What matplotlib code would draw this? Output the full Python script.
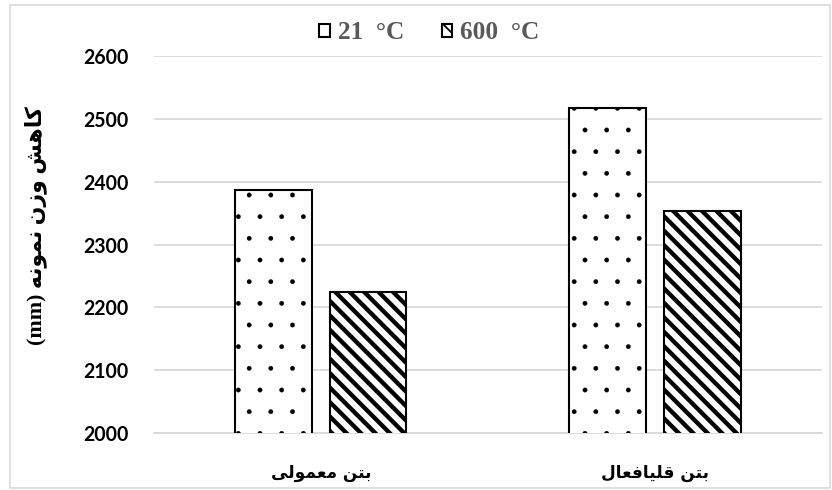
"""Bar chart: sample weight of normal vs alkali-activated concrete at 21 and 600 C."""

import matplotlib.pyplot as plt
from matplotlib.patches import Rectangle
import numpy as np

categories = ["بتن معمولی", "بتن قلیافعال"]
series_names = ["21  °C", "600  °C"]
values_21 = [2387, 2517]
values_600 = [2225, 2354]
y_ticks = [2000, 2100, 2200, 2300, 2400, 2500, 2600]
y_label = "کاهش وزن نمونه"

# presentation forms: isolated, final, initial, medial
FORMS = {
    "ا": ("\uFE8D", "\uFE8E", None, None),
    "ب": ("\uFE8F", "\uFE90", "\uFE91", "\uFE92"),
    "ت": ("\uFE95", "\uFE96", "\uFE97", "\uFE98"),
    "ن": ("\uFEE5", "\uFEE6", "\uFEE7", "\uFEE8"),
    "م": ("\uFEE1", "\uFEE2", "\uFEE3", "\uFEE4"),
    "ع": ("\uFEC9", "\uFECA", "\uFECB", "\uFECC"),
    "و": ("\uFEED", "\uFEEE", None, None),
    "ل": ("\uFEDD", "\uFEDE", "\uFEDF", "\uFEE0"),
    "ی": ("\uFBFC", "\uFBFD", "\uFBFE", "\uFBFF"),
    "ق": ("\uFED5", "\uFED6", "\uFED7", "\uFED8"),
    "ف": ("\uFED1", "\uFED2", "\uFED3", "\uFED4"),
    "ک": ("\uFB8E", "\uFB8F", "\uFB90", "\uFB91"),
    "ه": ("\uFEE9", "\uFEEA", "\uFEEB", "\uFEEC"),
    "ش": ("\uFEB5", "\uFEB6", "\uFEB7", "\uFEB8"),
    "ز": ("\uFEAF", "\uFEB0", None, None),
}


def shape_rtl(text):
    """Very small Persian shaper: pick joined forms, then reverse to visual order."""
    out = []
    for i, ch in enumerate(text):
        if ch not in FORMS:
            out.append(ch)
            continue
        prev = text[i - 1] if i > 0 else ""
        nxt = text[i + 1] if i + 1 < len(text) else ""
        join_prev = prev in FORMS and FORMS[prev][2] is not None
        join_next = nxt in FORMS and FORMS[ch][2] is not None
        iso, fin, ini, med = FORMS[ch]
        if join_prev and join_next:
            out.append(med)
        elif join_prev:
            out.append(fin)
        elif join_next:
            out.append(ini)
        else:
            out.append(iso)
    return "".join(reversed(out))


# dpi 130 so the hatch tile (one inch) gives the sparse dot grid of the original
DPI = 130
fig = plt.figure(figsize=(832 / DPI, 490 / DPI), dpi=DPI)
ax = fig.add_axes([0.185, 0.116, 0.803, 0.77])

x = np.arange(len(categories))
w = 0.228
off = 0.142
with plt.rc_context({"hatch.linewidth": 0.2}):
    ax.bar(x - off, values_21, w, color="white", edgecolor="black",
           linewidth=1.15, hatch=".", zorder=3)
with plt.rc_context({"hatch.linewidth": 2.4}):
    ax.bar(x + off, values_600, w, color="white", edgecolor="black",
           linewidth=1.15, hatch="\\\\\\", zorder=3)

ax.set_xlim(-0.5, 1.5)
ax.set_ylim(2000, 2600)
ax.set_yticks(y_ticks)
ax.set_yticklabels([str(t) for t in y_ticks], fontsize=10.8, fontweight="bold",
                   family="Lato")
ax.set_xticks(x)
ax.set_xticklabels([shape_rtl(c) for c in categories], fontsize=9.4,
                   fontweight="bold", family="DejaVu Sans")
ax.tick_params(axis="y", length=0, pad=14)
ax.tick_params(axis="x", length=0, pad=17)
ax.grid(axis="y", color="#d9d9d9", linewidth=1.0, zorder=0)
for side in ["top", "right", "left"]:
    ax.spines[side].set_visible(False)
ax.spines["bottom"].set_color("#d9d9d9")
ax.spines["bottom"].set_linewidth(1.0)

ax.set_ylabel("(mm) " + shape_rtl(y_label), fontsize=12.2, fontweight="bold",
              family=["Liberation Serif", "DejaVu Sans"])
ax.yaxis.set_label_coords(-0.16, 0.55)

leg = fig.legend(series_names, loc="center", bbox_to_anchor=(0.516, 0.933),
                 ncol=2, frameon=False, handlelength=0.42, handleheight=0.42,
                 handletextpad=0.3, columnspacing=1.5,
                 prop={"family": "Liberation Serif", "weight": "bold", "size": 14})
for t in leg.get_texts():
    t.set_color("#595959")

fig.patches.append(Rectangle((0.012, 0.005), 0.985, 0.985, transform=fig.transFigure,
                             fill=False, edgecolor="#d9d9d9", linewidth=0.9))

fig.savefig("out.png", dpi=DPI)
